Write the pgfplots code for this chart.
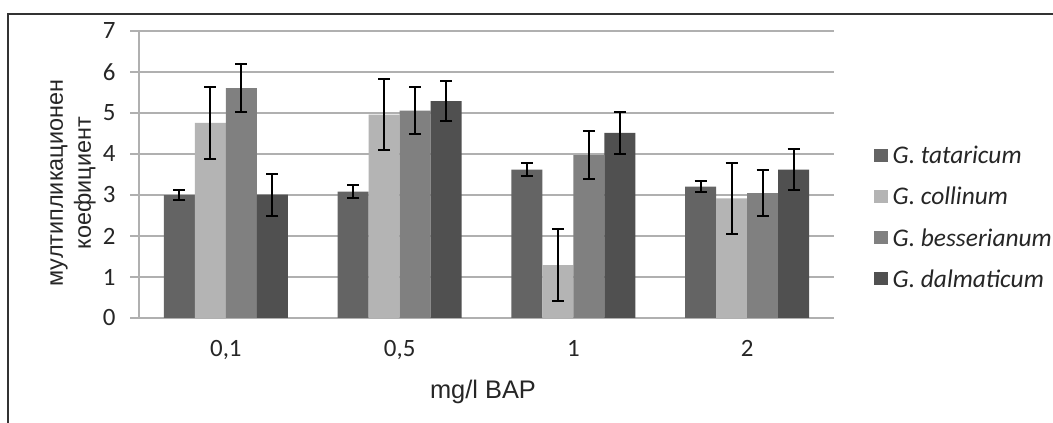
\documentclass[border=0pt]{standalone}
\usepackage{fontspec}
\setmainfont{Liberation Sans}
\newfontfamily\calfont{Carlito}
\usepackage{pgfplots}
\pgfplotsset{compat=1.18}
\definecolor{cTat}{HTML}{646464}
\definecolor{cCol}{HTML}{B4B4B4}
\definecolor{cBes}{HTML}{808080}
\definecolor{cDal}{HTML}{505050}
\definecolor{gridc}{HTML}{B0B0B0}
\begin{document}
\begin{tikzpicture}
\useasboundingbox (0,0) rectangle (1053bp,423bp);
\fill[white] (0,0) rectangle (1053bp,423bp);
\draw[line width=1.3bp,color=black!80] (8bp,-5bp) -- (8bp,409bp) -- (1060bp,409bp);
\begin{axis}[
  at={(139bp,105bp)}, anchor=south west,
  scale only axis, width=695bp, height=287bp,
  ybar=0pt, bar width=31bp,
  xmin=-0.5, xmax=3.5, ymin=0, ymax=7,
  xtick=data,
  xticklabels={{0,1},{0,5},{1},{2}},
  ytick={0,1,...,7},
  axis x line*=bottom, axis y line*=left,
  axis line style={gridc, line width=1.2bp},
  ymajorgrids, grid style={gridc, line width=1.2bp},
  tick align=outside, major tick length=9bp,
  ytick style={gridc, line width=1.2bp},
  xtick style={draw=none},
  /pgf/number format/assume math mode=true,
  tick label style={font=\calfont\fontsize{25}{25}\selectfont, text=black!85},
  yticklabel style={xshift=-11bp},
  xticklabel style={yshift=-10bp},
  xlabel={mg/l BAP},
  xlabel style={font=\fontsize{25.5}{26}\selectfont, at={(axis description cs:0.495,-0.279)}, anchor=base, text=black!85},
  ylabel={мултипликационен\\коефициент},
  ylabel style={font=\fontsize{23.5}{28}\selectfont, align=center, at={(axis description cs:-0.095,0.47)}, anchor=center, rotate=0, text=black!85},
  legend style={at={(axis description cs:1.0576,0.35)}, anchor=west, draw=none, fill=none,
    font=\calfont\itshape\fontsize{25.5}{25.5}\selectfont, row sep=18bp, inner sep=0pt,
    nodes={text=black!85, inner xsep=4.5bp}},
  legend image code/.code={\fill[#1] (0bp,-6bp) rectangle (14bp,7bp);},
  legend cell align=left,
  error bars/y dir=both, error bars/y explicit,
  error bars/error bar style={black, line width=2.2bp},
  error bars/error mark options={rotate=90, black, mark size=6bp, line width=2bp},
]
\addplot[fill=cTat, draw=none] coordinates {(0,3.00) +- (0,0.13) (1,3.08) +- (0,0.16) (2,3.62) +- (0,0.15) (3,3.205) +- (0,0.125)};
\addplot[fill=cCol, draw=none] coordinates {(0,4.76) +- (0,0.88) (1,4.96) +- (0,0.87) (2,1.29) +- (0,0.88) (3,2.915) +- (0,0.875)};
\addplot[fill=cBes, draw=none] coordinates {(0,5.605) +- (0,0.585) (1,5.06) +- (0,0.58) (2,3.97) +- (0,0.58) (3,3.045) +- (0,0.565)};
\addplot[fill=cDal, draw=none] coordinates {(0,3.01) +- (0,0.51) (1,5.29) +- (0,0.49) (2,4.515) +- (0,0.505) (3,3.62) +- (0,0.49)};
\legend{G. tataricum, G. collinum, G. besserianum, G. dalmaticum}
\end{axis}
\end{tikzpicture}
\end{document}
